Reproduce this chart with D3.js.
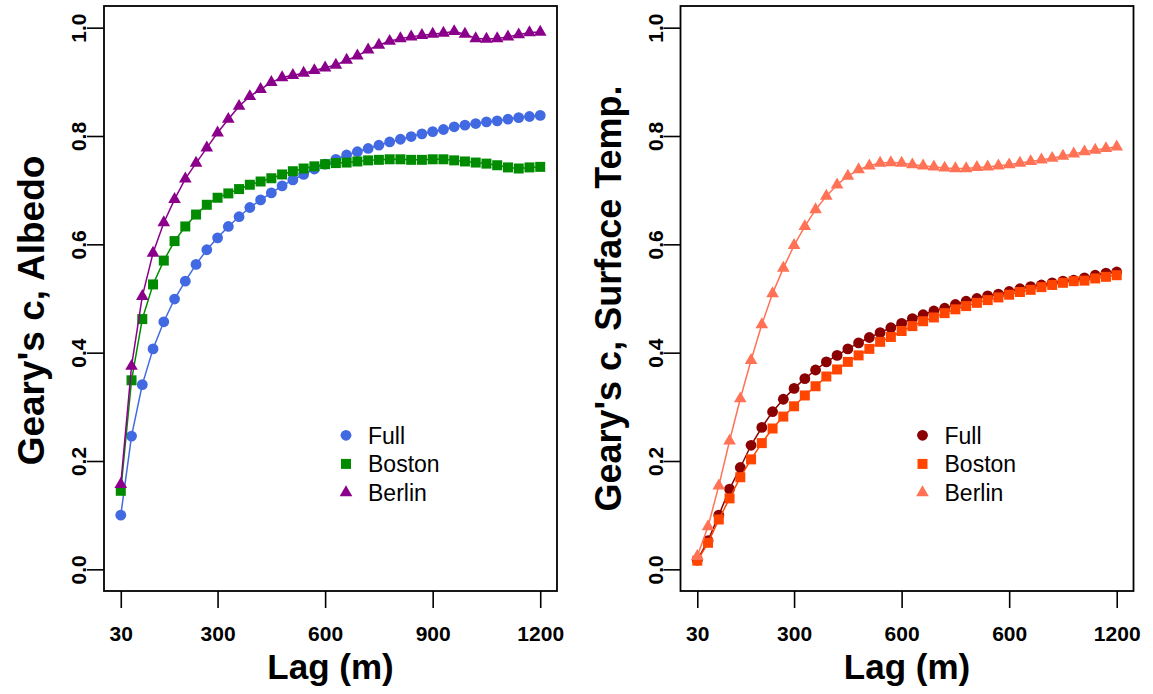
<!DOCTYPE html>
<html>
<head>
<meta charset="utf-8">
<script src="https://cdn.jsdelivr.net/npm/d3@7/dist/d3.min.js"></script>
<style>
body { margin: 0; background: #fff; }
svg { font-family: "Liberation Sans", Arial, Helvetica, sans-serif; }
</style>
</head>
<body>
<svg width="1153" height="694"></svg>
<script>
// lag distances (m)
var lags = [30, 60, 90, 120, 150, 180, 210, 240, 270, 300,
            330, 360, 390, 420, 450, 480, 510, 540, 570, 600,
            630, 660, 690, 720, 750, 780, 810, 840, 870, 900,
            930, 960, 990, 1020, 1050, 1080, 1110, 1140, 1170, 1200];

// Geary's c, albedo
var albedoFull = [0.100, 0.246, 0.341, 0.407, 0.457, 0.499, 0.532, 0.563, 0.590, 0.612,
                  0.633, 0.651, 0.668, 0.682, 0.695, 0.708, 0.719, 0.729, 0.739, 0.748,
                  0.757, 0.765, 0.771, 0.777, 0.783, 0.789, 0.794, 0.799, 0.804, 0.808,
                  0.812, 0.817, 0.820, 0.823, 0.826, 0.828, 0.831, 0.834, 0.836, 0.838];
var albedoBoston = [0.145, 0.349, 0.462, 0.526, 0.570, 0.606, 0.633, 0.655, 0.673, 0.686,
                    0.694, 0.702, 0.710, 0.716, 0.722, 0.729, 0.735, 0.740, 0.744, 0.748,
                    0.750, 0.751, 0.753, 0.755, 0.756, 0.757, 0.757, 0.756, 0.756, 0.757,
                    0.757, 0.755, 0.753, 0.751, 0.749, 0.746, 0.742, 0.740, 0.742, 0.743];
var albedoBerlin = [0.157, 0.375, 0.504, 0.584, 0.640, 0.683, 0.721, 0.750, 0.778, 0.806,
                    0.831, 0.855, 0.873, 0.886, 0.899, 0.908, 0.912, 0.916, 0.921, 0.926,
                    0.931, 0.940, 0.948, 0.959, 0.968, 0.975, 0.980, 0.983, 0.986, 0.988,
                    0.990, 0.993, 0.988, 0.980, 0.979, 0.980, 0.983, 0.987, 0.991, 0.992];

// Geary's c, surface temperature
var tempFull = [0.017, 0.053, 0.100, 0.148, 0.188, 0.229, 0.262, 0.291, 0.314, 0.334,
                0.352, 0.368, 0.383, 0.395, 0.407, 0.418, 0.428, 0.437, 0.446, 0.454,
                0.463, 0.470, 0.477, 0.482, 0.489, 0.495, 0.500, 0.505, 0.508, 0.513,
                0.518, 0.522, 0.525, 0.529, 0.532, 0.534, 0.538, 0.543, 0.547, 0.549];
var tempBoston = [0.016, 0.049, 0.092, 0.131, 0.170, 0.203, 0.233, 0.260, 0.282, 0.301,
                  0.321, 0.338, 0.356, 0.369, 0.383, 0.395, 0.407, 0.420, 0.429, 0.440,
                  0.449, 0.458, 0.465, 0.473, 0.480, 0.486, 0.492, 0.497, 0.502, 0.507,
                  0.512, 0.516, 0.521, 0.525, 0.529, 0.532, 0.533, 0.537, 0.540, 0.543];
var tempBerlin = [0.024, 0.079, 0.154, 0.237, 0.315, 0.386, 0.452, 0.509, 0.556, 0.598,
                  0.633, 0.664, 0.689, 0.710, 0.726, 0.738, 0.745, 0.750, 0.751, 0.750,
                  0.747, 0.745, 0.743, 0.741, 0.740, 0.740, 0.742, 0.743, 0.745, 0.747,
                  0.750, 0.753, 0.756, 0.759, 0.763, 0.767, 0.771, 0.774, 0.777, 0.780];

var seriesNames = ["Full", "Boston", "Berlin"];
var xTicks = [30, 300, 600, 900, 1200];
var leftXLabels = ["30", "300", "600", "900", "1200"];
var rightXLabels = ["30", "300", "600", "600", "1200"];   // as printed in the original
var yTicks = [0, 0.2, 0.4, 0.6, 0.8, 1.0];
var yTitles = ["Geary's c, Albedo", "Geary's c, Surface Temp."];

var svg = d3.select("svg");
var panelW = 1153 / 2;
var margin = {top: 6, right: 19.5, bottom: 103, left: 104};
var boxW = panelW - margin.left - margin.right;
var boxH = 694 - margin.top - margin.bottom;

// R style 4% padding on both axes
var xPad = (d3.max(lags) - d3.min(lags)) * 0.04;
var x = d3.scaleLinear()
    .domain([d3.min(lags) - xPad, d3.max(lags) + xPad])
    .range([0, boxW]);
var y = d3.scaleLinear()
    .domain([-0.04, 1.04])
    .range([boxH, 0]);

var panels = [
  {ytitle: yTitles[0], xlabels: leftXLabels, tsize: 37, tshift: 12,
   series: [albedoFull, albedoBoston, albedoBerlin],
   colors: ["#4169E1", "#008B00", "#8B008B"]},
  {ytitle: yTitles[1], xlabels: rightXLabels, tsize: 36, tshift: 0,
   series: [tempFull, tempBoston, tempBerlin],
   colors: ["#8B0000", "#FF4500", "#FF7256"]}
];

function symbolPath(k) {
  if (k == 0) return "M-5.4,0A5.4,5.4 0 1,0 5.4,0A5.4,5.4 0 1,0 -5.4,0Z";
  if (k == 1) return "M-5,-5H5V5H-5Z";
  var r = 7.3;
  return "M0," + (-r) + "L" + (r * 0.866) + "," + (r / 2) + "L" + (-r * 0.866) + "," + (r / 2) + "Z";
}

var line = d3.line()
    .x(function(d, i) { return x(lags[i]); })
    .y(function(d) { return y(d); });

panels.forEach(function(p, pi) {
  var g = svg.append("g")
      .attr("transform", "translate(" + (pi * panelW + margin.left) + "," + margin.top + ")");

  // series: line plus points, drawn in order
  p.series.forEach(function(vals, k) {
    g.append("path")
        .datum(vals)
        .attr("fill", "none")
        .attr("stroke", p.colors[k])
        .attr("stroke-width", 1.5)
        .attr("d", line);
    g.selectAll(".pt" + k)
      .data(vals)
      .enter().append("path")
        .attr("class", "pt" + k)
        .attr("transform", function(d, i) { return "translate(" + x(lags[i]) + "," + y(d) + ")"; })
        .attr("d", symbolPath(k))
        .attr("fill", p.colors[k]);
  });

  // box
  g.append("rect")
      .attr("width", boxW)
      .attr("height", boxH)
      .attr("fill", "none")
      .attr("stroke", "#000")
      .attr("stroke-width", 1.8);

  // x axis
  var xa = g.append("g")
      .attr("transform", "translate(0," + boxH + ")")
      .call(d3.axisBottom(x).tickValues(xTicks).tickSize(17)
            .tickFormat(function(d, i) { return p.xlabels[i]; }));
  xa.select(".domain").remove();
  xa.selectAll("line").attr("stroke-width", 1.6);
  xa.selectAll("text")
      .attr("y", 35)
      .attr("dy", "0.71em")
      .attr("fill", "#000")
      .attr("font-size", "21px")
      .attr("font-weight", "bold")
      .attr("font-family", "Liberation Sans, Arial, sans-serif");

  // y axis with labels parallel to the axis
  var ya = g.append("g")
      .call(d3.axisLeft(y).tickValues(yTicks).tickSize(17).tickFormat(d3.format(".1f")));
  ya.select(".domain").remove();
  ya.selectAll("line").attr("stroke-width", 1.6);
  ya.selectAll("text")
      .attr("transform", "rotate(-90)")
      .attr("x", 0)
      .attr("y", -18)
      .attr("dy", 0)
      .attr("text-anchor", "middle")
      .attr("fill", "#000")
      .attr("font-size", "21px")
      .attr("font-weight", "bold")
      .attr("font-family", "Liberation Sans, Arial, sans-serif");

  // axis titles
  g.append("text")
      .attr("x", boxW / 2)
      .attr("y", 679 - margin.top)
      .attr("text-anchor", "middle")
      .attr("font-size", "35px")
      .attr("font-weight", "bold")
      .text("Lag (m)");

  g.append("text")
      .attr("transform", "translate(" + (44 - margin.left) + "," + (boxH / 2 + p.tshift) + ") rotate(-90)")
      .attr("text-anchor", "middle")
      .attr("font-size", p.tsize + "px")
      .attr("font-weight", "bold")
      .text(p.ytitle);

  // legend
  var lg = g.append("g")
      .attr("transform", "translate(" + (346 - margin.left) + "," + (435.3 - margin.top) + ")");
  seriesNames.forEach(function(name, k) {
    lg.append("path")
        .attr("transform", "translate(0," + (k * 28.6) + ")")
        .attr("d", symbolPath(k))
        .attr("fill", p.colors[k]);
    lg.append("text")
        .attr("x", 22)
        .attr("y", k * 28.6)
        .attr("dy", "0.36em")
        .attr("font-size", "23px")
        .text(name);
  });
});
</script>
</body>
</html>
